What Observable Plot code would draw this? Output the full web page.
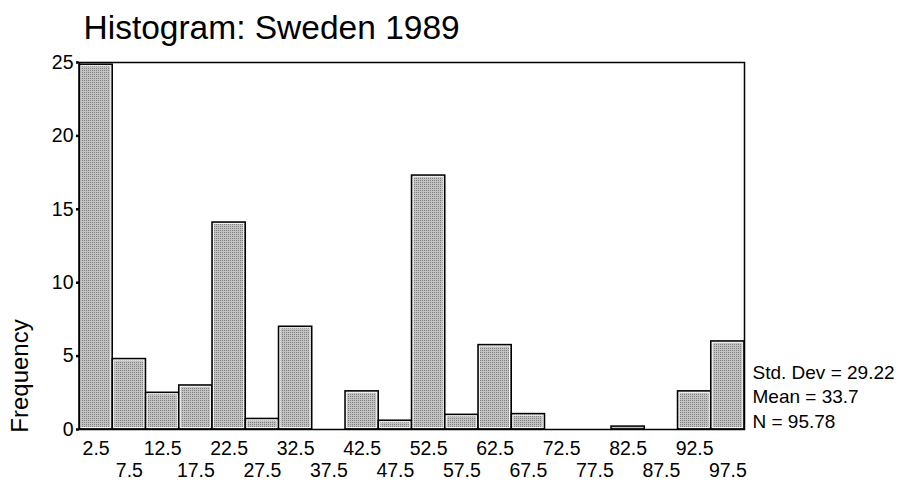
<!DOCTYPE html>
<html>
<head>
<meta charset="utf-8">
<script src="https://cdn.jsdelivr.net/npm/d3@7"></script>
<script src="https://cdn.jsdelivr.net/npm/@observablehq/plot@0.6"></script>
<style>
  html, body { margin: 0; padding: 0; background: white; }
  #chart svg text { font-family: "Liberation Sans", Arial, sans-serif; }
</style>
</head>
<body>
<svg width="0" height="0" style="position:absolute">
  <defs>
    <pattern id="stipple" width="2" height="2" patternUnits="userSpaceOnUse">
      <rect width="2" height="2" fill="#c2c2c2"></rect>
      <rect width="1" height="1" fill="#808080"></rect>
    </pattern>
  </defs>
</svg>
<div id="chart"></div>
<script>
const title = "Histogram: Sweden 1989";
const yLabel = "Frequency";
const binCenters = [2.5, 7.5, 12.5, 17.5, 22.5, 27.5, 32.5, 37.5, 42.5, 47.5,
                    52.5, 57.5, 62.5, 67.5, 72.5, 77.5, 82.5, 87.5, 92.5, 97.5];
const frequencies = [24.85, 4.8, 2.5, 3.0, 14.1, 0.72, 7.0, 0, 2.6, 0.6,
                     17.3, 1.0, 5.75, 1.05, 0, 0, 0.2, 0, 2.6, 6.0];
const binWidth = 5;
const yTicks = [0, 5, 10, 15, 20, 25];
const xTicksUpper = [2.5, 12.5, 22.5, 32.5, 42.5, 52.5, 62.5, 72.5, 82.5, 92.5];
const xTicksLower = [7.5, 17.5, 27.5, 37.5, 47.5, 57.5, 67.5, 77.5, 87.5, 97.5];
const statsLines = ["Std. Dev = 29.22", "Mean = 33.7", "N = 95.78"];

const bins = binCenters.map((c, i) => ({lo: c - binWidth / 2, hi: c + binWidth / 2, f: frequencies[i]}));
const fmt = d3.format(".1f");

const chart = Plot.plot({
  width: 898,
  height: 487,
  marginLeft: 79,
  marginRight: 154,
  marginTop: 62,
  marginBottom: 58,
  x: {domain: [0, 100]},
  y: {domain: [0, 25]},
  style: {fontFamily: "Liberation Sans, Arial, sans-serif", fontSize: "19px", background: "white", color: "black", overflow: "visible"},
  marks: [
    Plot.rectY(bins, {x1: "lo", x2: "hi", y: "f", fill: "url(#stipple)", stroke: "black", strokeWidth: 1.5}),
    Plot.rectY(bins.filter(d => d.f > 0.3), {x1: "lo", x2: "hi", y: "f", inset: 1.6, fill: "none", stroke: "white", strokeWidth: 0.8}),
    Plot.frame({stroke: "black", strokeWidth: 1.5}),
    Plot.axisY({ticks: yTicks, tickSize: 3, tickPadding: 3, strokeWidth: 2.5, fontSize: 19.5, label: null}),
    Plot.axisX({ticks: xTicksUpper, tickSize: 0, tickPadding: 12, tickFormat: fmt, fontSize: 19.5, label: null}),
    Plot.axisX({ticks: xTicksLower, tickSize: 0, tickPadding: 34, tickFormat: fmt, fontSize: 19.5, label: null}),
    Plot.text([title], {frameAnchor: "top-left", dx: 4, dy: -24, lineAnchor: "bottom", textAnchor: "start", fontSize: 33.5}),
    Plot.text([yLabel], {frameAnchor: "left", dx: -59, dy: 130, rotate: -90, textAnchor: "middle", fontSize: 24}),
    Plot.text([statsLines.join("\n")], {frameAnchor: "bottom-right", dx: 8, dy: -2, textAnchor: "start", lineAnchor: "bottom", lineHeight: 1.27, fontSize: 19})
  ]
});
document.getElementById("chart").appendChild(chart);
</script>
</body>
</html>
